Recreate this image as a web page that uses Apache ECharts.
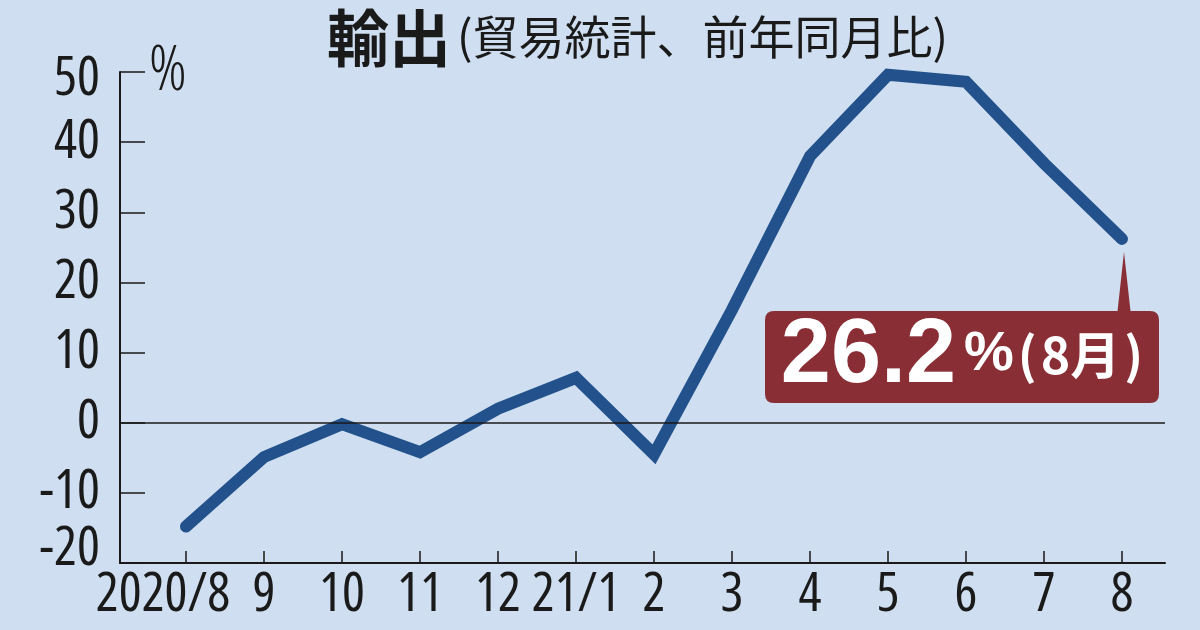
<!DOCTYPE html>
<html>
<head>
<meta charset="utf-8">
<script src="https://cdn.jsdelivr.net/npm/echarts@6/dist/echarts.min.js"></script>
<style>
html,body{margin:0;padding:0;background:#cfdff1;}
#chart{width:1200px;height:630px;}
</style>
</head>
<body>
<div id="chart"></div>
<script>
const categories = ['2020/8','9','10','11','12','21/1','2','3','4','5','6','7','8'];
const exportsYoY = [-14.8, -4.9, -0.2, -4.2, 2.0, 6.4, -4.5, 16.1, 38.0, 49.6, 48.6, 37.0, 26.2];
const yTicks = [-20, -10, 0, 10, 20, 30, 40, 50];
const titleMain = '輸出';
const titleSub = '(貿易統計、前年同月比)';
const calloutValue = '26.2';
const calloutUnit = '%';
const calloutMonth = '8月';

const chart = echarts.init(document.getElementById('chart'), null, {renderer: 'canvas'});
const idx = categories.map((_, i) => i);
const lastIdx = categories.length - 1;
const axisFont = '"Open Sans", sans-serif';
const axisStretch = 'condensed';
const ink = '#1a1a1a';
const boxColor = '#8a2e36';
const W = 394, H = 92, R = 9;
const boxPath = 'path://M' + R + ',0 H' + (W - R) + ' Q' + W + ',0 ' + W + ',' + R +
  ' V' + (H - R) + ' Q' + W + ',' + H + ' ' + (W - R) + ',' + H +
  ' H' + R + ' Q0,' + H + ' 0,' + (H - R) + ' V' + R + ' Q0,0 ' + R + ',0 Z';

const axisText = {fontFamily: axisFont, fontStyle: axisStretch, fontSize: 54, color: ink};

chart.setOption({
  backgroundColor: '#cfdff1',
  animation: false,
  title: {
    text: '{a|' + titleMain + '}{b|' + titleSub + '}',
    left: 322,
    top: 0,
    textStyle: {
      rich: {
        a: {fontFamily: '"Noto Sans CJK JP", sans-serif', fontWeight: 'bold', fontSize: 62, color: ink, lineHeight: 66},
        b: {fontFamily: '"Noto Sans CJK JP", sans-serif', fontWeight: 'normal', fontSize: 46, color: ink, lineHeight: 66, padding: [0,0,2,6]}
      }
    }
  },
  grid: {left: 120, right: 35, top: 72, bottom: 67, containLabel: false},
  xAxis: {
    type: 'value',
    min: -66/78,
    max: lastIdx + 43/78,
    splitLine: {show: false},
    axisLine: {show: true, onZero: false, lineStyle: {color: ink, width: 2}},
    axisTick: {show: true, inside: true, length: 12, customValues: idx, lineStyle: {color: ink, width: 1.5}},
    axisLabel: Object.assign({
      customValues: idx,
      margin: 6,
      formatter: function (v) {
        const i = Math.round(v);
        const s = categories[i];
        return i === 0 ? '{f|' + s + '}' : s;
      },
      rich: {f: Object.assign({padding: [0, 46, 0, 0]}, axisText)}
    }, axisText)
  },
  yAxis: {
    type: 'value',
    min: -20,
    max: 50,
    interval: 10,
    name: '%',
    nameLocation: 'end',
    nameGap: 0,
    nameTextStyle: Object.assign({}, axisText, {fontSize: 62, fontWeight: 300, align: 'left', verticalAlign: 'middle', padding: [0, 0, 0, 29]}),
    splitLine: {show: false},
    axisLine: {show: true, onZero: false, lineStyle: {color: ink, width: 2}},
    axisTick: {show: true, inside: true, length: 25, lineStyle: {color: ink, width: 1.5}},
    axisLabel: Object.assign({
      margin: 20,
      formatter: function (v) {
        if (v === yTicks[yTicks.length - 1]) return '{t|' + v + '}';
        if (v === yTicks[0]) return '{m|' + v + '}';
        return String(v);
      },
      rich: {
        t: Object.assign({padding: [16, 0, 0, 0]}, axisText),
        m: Object.assign({padding: [0, 0, 26, 0]}, axisText)
      }
    }, axisText)
  },
  series: [{
    type: 'line',
    data: exportsYoY.map((v, i) => [i, v]),
    showSymbol: false,
    symbol: 'none',
    lineStyle: {color: '#22518b', width: 12, cap: 'round', join: 'miter'},
    markLine: {
      silent: true,
      symbol: ['none', 'none'],
      label: {show: false},
      lineStyle: {color: ink, width: 1.5, type: 'solid'},
      data: [{yAxis: 0}]
    },
    markPoint: {
      silent: true,
      data: [
        {
          coord: [lastIdx, exportsYoY[lastIdx]],
          symbol: 'triangle',
          symbolSize: [14, 64],
          symbolOffset: [2, 45],
          itemStyle: {color: boxColor},
          label: {show: false}
        },
        {
          coord: [lastIdx, exportsYoY[lastIdx]],
          symbol: boxPath,
          symbolKeepAspect: false,
          symbolSize: [W, H],
          symbolOffset: [-160, 118],
          itemStyle: {color: boxColor},
          label: {
            show: true,
            position: 'inside',
            formatter: '{a|' + calloutValue + '}{b|' + calloutUnit + '}{p|(}{c|' + calloutMonth + '}{q|)}',
            rich: {
              a: {fontFamily: '"Liberation Sans", sans-serif', fontWeight: 'bold', fontSize: 90, color: '#ffffff', lineHeight: 90},
              b: {fontFamily: '"Liberation Sans", sans-serif', fontWeight: 'bold', fontSize: 56, color: '#ffffff', lineHeight: 60, padding: [0, 0, 4, 8]},
              p: {fontFamily: '"Noto Sans CJK JP", sans-serif', fontWeight: 'bold', fontSize: 50, color: '#ffffff', lineHeight: 60, padding: [0, 4, 4, 4]},
              q: {fontFamily: '"Noto Sans CJK JP", sans-serif', fontWeight: 'bold', fontSize: 50, color: '#ffffff', lineHeight: 60, padding: [0, 0, 4, 4]},
              c: {fontFamily: '"Noto Sans CJK JP", sans-serif', fontWeight: 'bold', fontSize: 50, color: '#ffffff', lineHeight: 60, padding: [0, 0, 4, 0]}
            }
          }
        }
      ]
    }
  }]
});
</script>
</body>
</html>
